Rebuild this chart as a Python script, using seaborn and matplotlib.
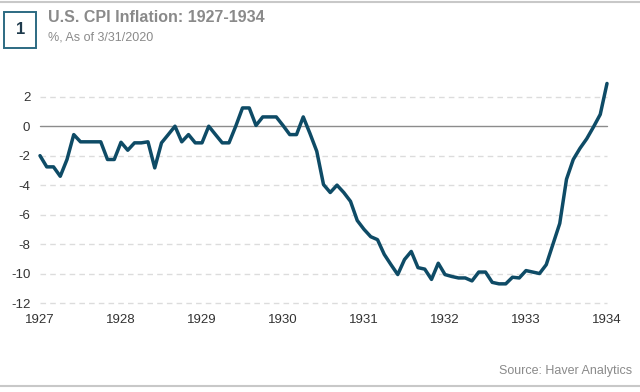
import numpy as np
import pandas as pd
import matplotlib
matplotlib.use("Agg")
import matplotlib.pyplot as plt
import seaborn as sns
from matplotlib.patches import Rectangle
from matplotlib.lines import Line2D

# Monthly US CPI inflation (% y/y), Jan 1927 - Jan 1934
start_year = 1927
cpi_yoy = [
    -2.0, -2.76, -2.76, -3.4, -2.26, -0.57, -1.06, -1.06, -1.06, -1.06, -2.26, -2.26,   # 1927
    -1.09, -1.63, -1.13, -1.13, -1.06, -2.83, -1.13, -0.57, 0.0, -1.06, -0.57, -1.13,    # 1928
    -1.13, 0.0, -0.57, -1.13, -1.13, 0.0, 1.24, 1.24, 0.05, 0.63, 0.63, 0.63,            # 1929
    0.05, -0.57, -0.57, 0.63, -0.5, -1.7, -3.96, -4.5, -4.0, -4.5, -5.1, -6.4,           # 1930
    -7.0, -7.5, -7.7, -8.7, -9.4, -10.07, -9.05, -8.5, -9.6, -9.7, -10.4, -9.3,          # 1931
    -10.07, -10.2, -10.3, -10.3, -10.5, -9.9, -9.9, -10.6, -10.7, -10.7, -10.25, -10.3,  # 1932
    -9.8, -9.9, -10.0, -9.4, -8.0, -6.6, -3.6, -2.26, -1.5, -0.85, -0.05, 0.8,           # 1933
    2.9,                                                                                # Jan 1934
]
year_ticks = [1927, 1928, 1929, 1930, 1931, 1932, 1933, 1934]
y_ticks = [2, 0, -2, -4, -6, -8, -10, -12]

title = "U.S. CPI Inflation: 1927-1934"
subtitle = "%, As of 3/31/2020"
source = "Source: Haver Analytics"

df = pd.DataFrame({
    "date": [start_year + i / 12 for i in range(len(cpi_yoy))],
    "value": cpi_yoy,
})

sns.set_style("white")
plt.rcParams["font.family"] = ["Liberation Sans", "DejaVu Sans"]

fig = plt.figure(figsize=(6.4, 3.92), dpi=100)
ax = fig.add_axes([40 / 640, (392 - 303) / 392, (607 - 40) / 640, (303 - 82) / 392])

line_color = "#0e4b66"
for t in y_ticks:
    if t == 0:
        ax.axhline(0, color="#8c8c8c", lw=1.0, zorder=1)
    else:
        ax.axhline(t, color="#dcdcdc", lw=1.0, ls=(0, (4, 3)), zorder=1, clip_on=False)

sns.lineplot(data=df, x="date", y="value", ax=ax, color=line_color, lw=2.5, zorder=3)
for ln in ax.lines:
    ln.set_clip_on(False)

ax.set_xlim(1927, 1934)
ax.set_ylim(-12, 3.0)
ax.set_xticks(year_ticks)
ax.set_xticklabels([str(y) for y in year_ticks])
ax.set_yticks(y_ticks)
ax.set_yticklabels([str(t) for t in y_ticks])
ax.tick_params(axis="both", length=0, labelsize=9.5, colors="#333333")
ax.tick_params(axis="x", pad=8)
ax.tick_params(axis="y", pad=7)
ax.set_xlabel("")
ax.set_ylabel("")
for s in ax.spines.values():
    s.set_visible(False)
ax.patch.set_alpha(0)

# header and footer decoration
fig.add_artist(Line2D([0, 1], [1 - 1.5 / 392, 1 - 1.5 / 392], transform=fig.transFigure,
                      color="#c8c8c8", lw=1.5))
fig.add_artist(Line2D([0, 1], [1 - 386 / 392, 1 - 386 / 392], transform=fig.transFigure,
                      color="#c8c8c8", lw=1.5))
fig.add_artist(Rectangle((4 / 640, 1 - 48 / 392), 32 / 640, 36 / 392, transform=fig.transFigure,
                         fill=False, edgecolor="#2c6a82", lw=1.4))
fig.text(20.5 / 640, 1 - 30 / 392, "1", ha="center", va="center", fontsize=12,
         fontweight="bold", color="#1e3a4c")
fig.text(48 / 640, 1 - 18 / 392, title, ha="left", va="center", fontsize=11.5,
         fontweight="bold", color="#8a8a8a")
fig.text(48 / 640, 1 - 37 / 392, subtitle, ha="left", va="center", fontsize=9,
         color="#8a8a8a")
fig.text(632 / 640, 1 - 371 / 392, source, ha="right", va="center", fontsize=9,
         color="#8a8a8a")

fig.savefig("out.png", dpi=100)
